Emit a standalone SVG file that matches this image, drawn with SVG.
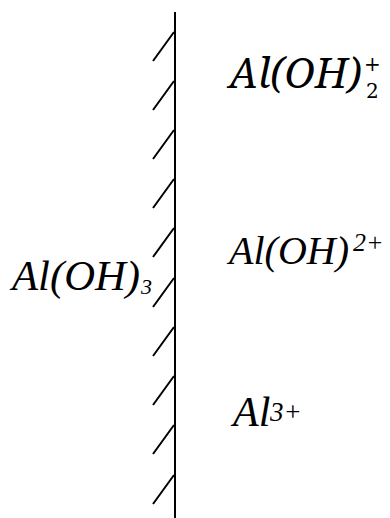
<svg xmlns="http://www.w3.org/2000/svg" width="390" height="518" viewBox="0 0 390 518">
<style>
.ln{stroke:#000;stroke-width:2;fill:none}
.t{font-family:"Liberation Serif",serif;font-style:italic;fill:#000}
.m{font-family:"Noto Serif","DejaVu Serif",serif;font-style:italic;fill:#000}
.mu{font-family:"DejaVu Serif",serif;fill:#000}
</style>
<rect width="390" height="518" fill="#fff"/>
<g id="wall">
<line class="ln" x1="175" y1="12" x2="175" y2="518"/>
<path class="ln" d="M153,61 L174,32 M153,110 L174,81 M153,159 L174,130 M153,208 L174,179 M153,257 L174,228 M153,307 L174,278 M153,356 L174,327 M153,405 L174,376 M153,454 L174,425 M153,504 L174,475"/>
</g>
<g id="n1">
<text class="m" x="229" y="88" font-size="41">Al(OH)</text>
<text class="mu" x="364" y="71" font-size="20">+</text>
<text class="mu" x="366" y="98" font-size="20">2</text>
</g>
<g id="n2">
<text class="t" x="12" y="290" font-size="43" textLength="128" lengthAdjust="spacingAndGlyphs">Al(OH)</text>
<text class="t" x="141" y="294" font-size="22">3</text>
</g>
<g id="n3">
<text class="t" x="229" y="264" font-size="41" textLength="120" lengthAdjust="spacingAndGlyphs">Al(OH)</text>
<text class="t" x="353" y="251" font-size="26">2+</text>
</g>
<g id="n4">
<text class="t" x="233" y="426" font-size="42">Al</text>
<text class="t" x="270" y="421" font-size="27">3+</text>
</g>
</svg>
